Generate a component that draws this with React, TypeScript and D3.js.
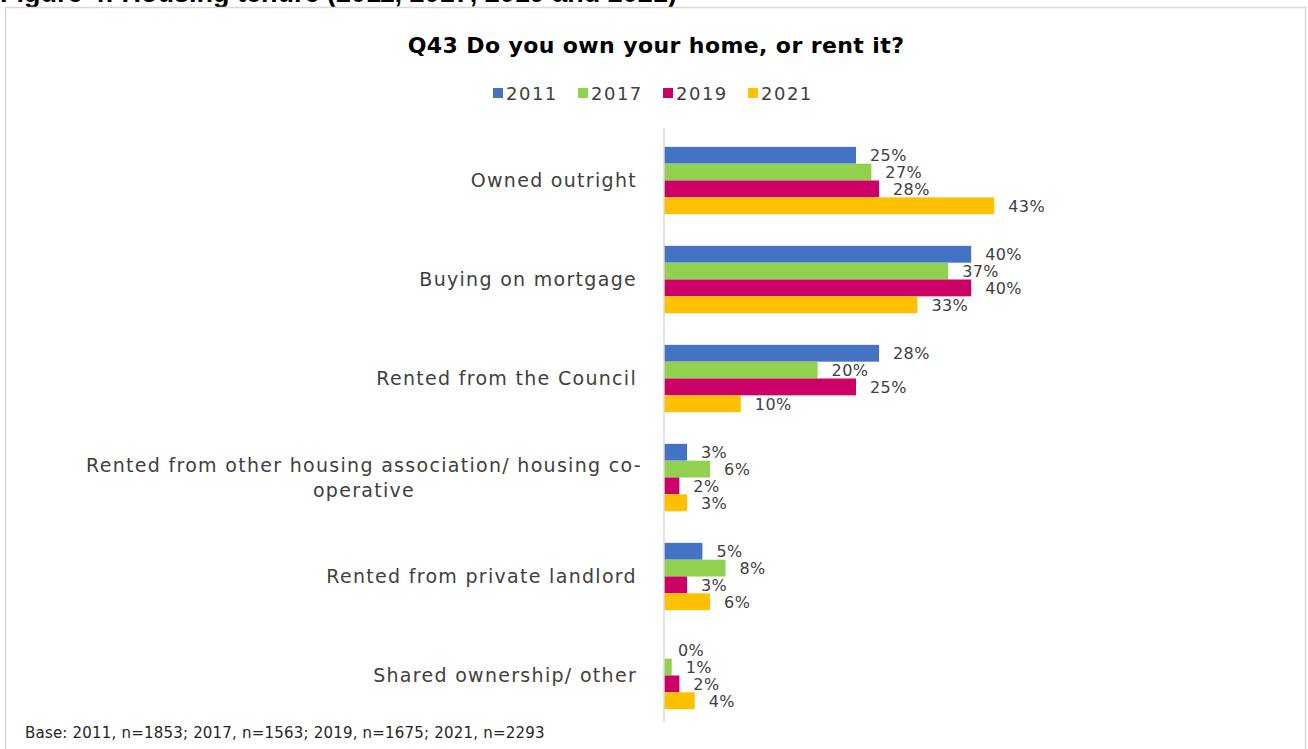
import { useEffect, useRef } from "react";
import * as d3 from "d3";

const CATEGORIES = [
  "Owned outright",
  "Buying on mortgage",
  "Rented from the Council",
  "Rented from other housing association/ housing co-|operative",
  "Rented from private landlord",
  "Shared ownership/ other",
];
const YEARS = ["2011", "2017", "2019", "2021"];
const VALUES_2011 = [25, 40, 28, 3, 5, 0];
const VALUES_2017 = [27, 37, 20, 6, 8, 1];
const VALUES_2019 = [28, 40, 25, 2, 3, 2];
const VALUES_2021 = [43, 33, 10, 3, 6, 4];
const COLORS = ["#4472C4", "#92D050", "#CC0066", "#FFC000"];

const TITLE = "Q43 Do you own your home, or rent it?";
const CAPTION = "Figure 4: Housing tenure (2011, 2017, 2019 and 2021)";
const FOOTNOTE = "Base: 2011, n=1853; 2017, n=1563; 2019, n=1675; 2021, n=2293";

const W = 1308;
const H = 749;
const FONT = "'DejaVu Sans', sans-serif";

export default function App() {
  const svgRef = useRef<SVGSVGElement>(null);

  useEffect(() => {
    if (!svgRef.current) return;
    const svg = d3.select(svgRef.current);
    svg.selectAll("*").remove();

    const series = [VALUES_2011, VALUES_2017, VALUES_2019, VALUES_2021];

    // caption, cut off by the top of the page
    svg.append("text")
      .attr("x", 0).attr("y", 2)
      .attr("font-family", "'Liberation Sans', Arial, sans-serif")
      .attr("font-weight", "bold").attr("font-size", 27)
      .attr("fill", "#000")
      .text(CAPTION);

    // frame
    svg.append("rect")
      .attr("x", 5.5).attr("y", 7.5)
      .attr("width", 1300).attr("height", 760)
      .attr("fill", "#fff").attr("stroke", "#d9d9d9").attr("stroke-width", 1.5);

    // title
    svg.append("text")
      .attr("x", 656).attr("y", 53)
      .attr("text-anchor", "middle")
      .attr("font-family", FONT).attr("font-weight", "bold").attr("font-size", 22)
      .attr("letter-spacing", 0.4)
      .attr("fill", "#000")
      .text(TITLE);

    // legend
    const lg = svg.append("g");
    YEARS.forEach((yr, i) => {
      const lx = 493 + i * 85;
      lg.append("rect").attr("x", lx).attr("y", 88).attr("width", 10).attr("height", 10).attr("fill", COLORS[i]);
      lg.append("text")
        .attr("x", lx + 13).attr("y", 100)
        .attr("font-family", FONT).attr("font-size", 18).attr("letter-spacing", 1.5)
        .attr("fill", "#404040")
        .text(yr);
    });

    const x = d3.scaleLinear().domain([0, 50]).range([664, 1048]);
    const y = d3.scaleBand<string>().domain(CATEGORIES).range([131, 725])
      .paddingInner(0.32).paddingOuter(0.16);
    const yInner = d3.scaleBand<string>().domain(YEARS).range([0, y.bandwidth()]);

    // bars + value labels
    CATEGORIES.forEach((cat, ci) => {
      const g = svg.append("g").attr("transform", `translate(0,${y(cat)})`);
      YEARS.forEach((yr, si) => {
        const v = series[si][ci];
        g.append("rect")
          .attr("x", x(0)).attr("y", yInner(yr)!)
          .attr("width", x(v) - x(0)).attr("height", yInner.bandwidth())
          .attr("fill", COLORS[si]);
        g.append("text")
          .attr("x", x(v) + 14).attr("y", yInner(yr)! + yInner.bandwidth() / 2)
          .attr("dy", "0.38em")
          .attr("font-family", FONT).attr("font-size", 16).attr("letter-spacing", 0.4)
          .attr("fill", "#404040")
          .text(`${v}%`);
      });
    });

    // axis line
    svg.append("line")
      .attr("x1", x(0)).attr("x2", x(0))
      .attr("y1", 128).attr("y2", 722)
      .attr("stroke", "#d9d9d9").attr("stroke-width", 1.5);

    // category labels
    CATEGORIES.forEach(cat => {
      const lines = cat.split("|");
      const cy = y(cat)! + y.bandwidth() / 2;
      const t = svg.append("text")
        .attr("font-family", FONT).attr("font-size", 19).attr("letter-spacing", 1.3)
        .attr("fill", "#404040");
      if (lines.length === 1) {
        t.attr("x", 637).attr("y", cy).attr("dy", "0.35em")
          .attr("text-anchor", "end")
          .text(cat);
      } else {
        t.attr("text-anchor", "middle");
        lines.forEach((ln, li) => {
          t.append("tspan")
            .attr("x", 364).attr("y", cy - 12.5 + li * 25).attr("dy", "0.35em")
            .text(ln);
        });
      }
    });

    // footnote
    svg.append("text")
      .attr("x", 25).attr("y", 738)
      .attr("font-family", FONT).attr("font-size", 15).attr("letter-spacing", 0.2)
      .attr("fill", "#262626")
      .text(FOOTNOTE);
  }, []);

  return (
    <svg
      ref={svgRef}
      width={W}
      height={H}
      style={{ position: "absolute", left: 0, top: 0, display: "block", background: "#fff" }}
    />
  );
}
